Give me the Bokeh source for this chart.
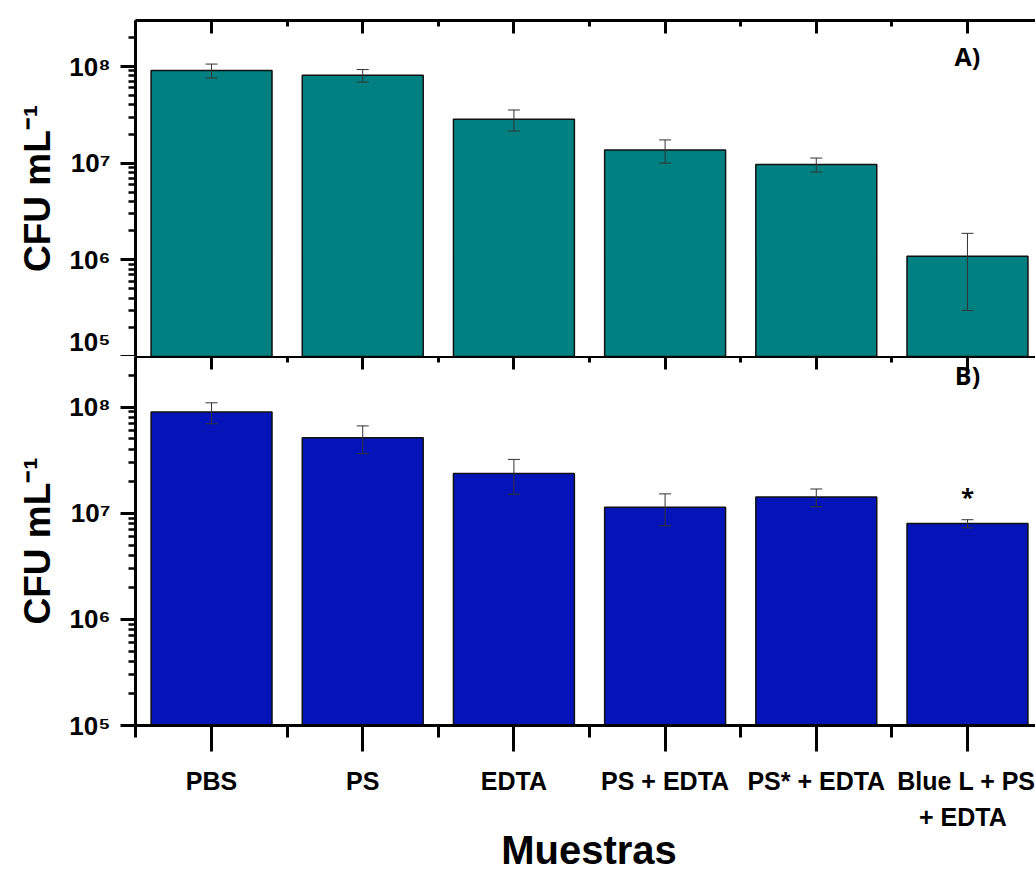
from bokeh.plotting import figure
from bokeh.models import (ColumnDataSource, Range1d, FixedTicker, LinearAxis,
                          Whisker, TeeHead, Label, Div)
from bokeh.layouts import column
from bokeh.embed import file_html
from bokeh.resources import INLINE

# Samples (x axis) and viable counts, CFU per mL
categories = ["PBS", "PS", "EDTA", "PS + EDTA", "PS* + EDTA", "Blue L + PS\n+  EDTA"]
cfu_a = [9.1e7, 8.1e7, 2.85e7, 1.37e7, 9.7e6, 1.09e6]
err_a = [1.5e7, 1.2e7, 7.0e6, 3.7e6, 1.6e6, 7.9e5]
cfu_b = [8.96e7, 5.14e7, 2.36e7, 1.14e7, 1.42e7, 7.98e6]
err_b = [2.0e7, 1.5e7, 8.5e6, 3.8e6, 2.7e6, 7.0e5]
y_ticks = [1e5, 1e6, 1e7, 1e8]
y_tick_labels = ["10⁵", "10⁶", "10⁷", "10⁸"]
star_value = 1.45e7  # height of the significance mark in panel B

xs = list(range(1, len(categories) + 1))
y_min, y_max = 1e5, 10 ** 8.476
minor_y = [m * 10 ** e for e in range(5, 9) for m in range(2, 10) if m * 10 ** e < y_max]
minor_x = [x - 0.5 for x in xs] + [xs[-1] + 0.5]

FONT = "Liberation Sans"
W = 1035
LEFT = 135


def make_panel(values, errors, color, height, border_top, border_bottom):
    p = figure(width=W, height=height, output_backend="svg", toolbar_location=None,
               x_range=Range1d(0.497, 6.45), y_range=Range1d(y_min, y_max),
               y_axis_type="log", x_axis_location=None,
               min_border_left=LEFT, min_border_right=0,
               min_border_top=border_top, min_border_bottom=border_bottom,
               outline_line_color=None, background_fill_color="white")
    p.grid.visible = False

    src = ColumnDataSource(dict(x=xs, top=values,
                                upper=[v + e for v, e in zip(values, errors)],
                                lower=[v - e for v, e in zip(values, errors)]))
    p.vbar(x="x", top="top", bottom=y_min, width=0.8, source=src,
           fill_color=color, line_color="#111111", line_width=1.5)
    p.add_layout(Whisker(source=src, base="x", upper="upper", lower="lower", level="overlay",
                         line_color="#333333", line_width=1,
                         upper_head=TeeHead(size=12, line_color="#333333", line_width=1),
                         lower_head=TeeHead(size=12, line_color="#333333", line_width=1)))

    ax = p.yaxis[0]
    ax.ticker = FixedTicker(ticks=y_ticks, minor_ticks=minor_y)
    ax.major_label_overrides = {t: s for t, s in zip(y_ticks, y_tick_labels)}
    ax.axis_line_width = 3
    ax.major_tick_line_width = 3
    ax.major_tick_out = 15
    ax.major_tick_in = 0
    ax.minor_tick_line_width = 2.5
    ax.minor_tick_out = 7
    ax.minor_tick_in = 0
    ax.major_label_text_font = FONT
    ax.major_label_text_font_style = "bold"
    ax.major_label_text_font_size = "26px"
    ax.major_label_text_color = "black"
    ax.major_label_standoff = 10
    ax.axis_label = "CFU mL⁻¹"
    ax.axis_label_text_font = FONT
    ax.axis_label_text_font_style = "bold"
    ax.axis_label_text_font_size = "37px"
    ax.axis_label_text_color = "black"
    ax.axis_label_standoff = 8

    # upper frame edge with inward ticks and no labels
    top_ax = LinearAxis(ticker=FixedTicker(ticks=xs, minor_ticks=minor_x),
                        major_label_overrides={x: "" for x in xs},
                        major_label_standoff=0,
                        axis_line_width=3, major_tick_line_width=3, minor_tick_line_width=3,
                        major_tick_in=13, major_tick_out=0, minor_tick_in=6, minor_tick_out=0)
    p.add_layout(top_ax, "above")
    return p


top = make_panel(cfu_a, err_a, "#008080", 356, 20, 0)
top.add_layout(Label(x=6, y=301, y_units="screen", text="A)", text_align="center",
                     text_baseline="middle", text_font="Open Sans", text_font_style="bold",
                     text_font_size="25px", text_color="black"))

bottom = make_panel(cfu_b, err_b, "#0514B8", 477, 0, 107)
bottom.add_layout(Label(x=6, y=351, y_units="screen", text="B)", text_align="center",
                        text_baseline="middle", text_font="Open Sans", text_font_style="bold",
                        text_font_size="25px", text_color="black"))
bottom.add_layout(Label(x=6, y=star_value, text="*", text_align="center",
                        text_baseline="middle", text_font="Open Sans", text_font_style="bold",
                        text_font_size="24px", text_color="black"))

xa = LinearAxis(ticker=FixedTicker(ticks=xs, minor_ticks=minor_x))
xa.major_label_overrides = {x: c for x, c in zip(xs, categories)}
xa.axis_line_width = 3
xa.major_tick_line_width = 3
xa.major_tick_out = 26
xa.major_tick_in = 0
xa.minor_tick_line_width = 3
xa.minor_tick_out = 12
xa.minor_tick_in = 0
xa.major_label_text_font = FONT
xa.major_label_text_font_style = "bold"
xa.major_label_text_font_size = "25px"
xa.major_label_text_line_height = 1.3
xa.major_label_text_color = "black"
xa.major_label_standoff = 15
bottom.add_layout(xa, "below")

# x-axis title, centred under the plotting frame
x_title = Div(
    text=('<div style="margin:0;margin-left:143px;width:892px;text-align:center;'
          'font-family:\'Liberation Sans\';font-weight:bold;font-size:40px;'
          'line-height:34px;padding:0;color:black;">Muestras</div>'),
    width=W, height=36, styles={"margin": "0", "padding": "0"})

layout = column(top, bottom, x_title, spacing=0)
open("out.html", "w").write(file_html(layout, INLINE))
